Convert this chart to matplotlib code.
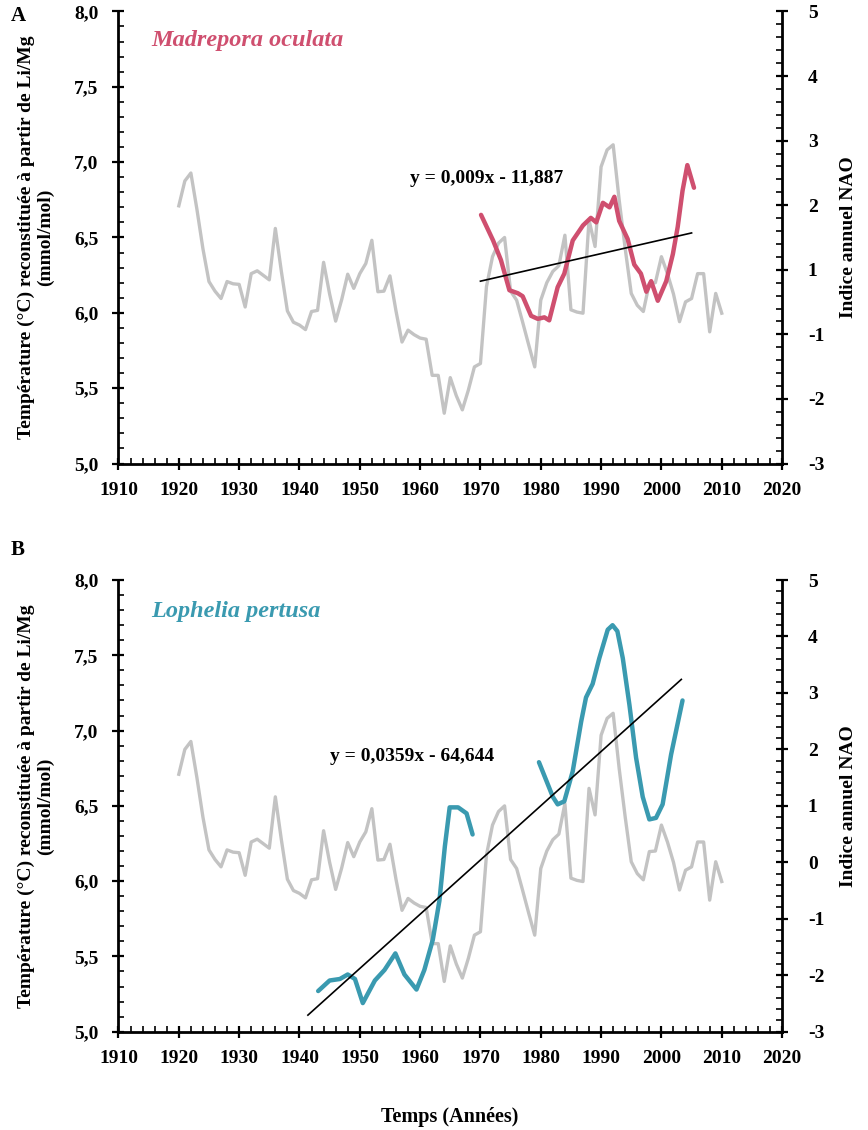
import matplotlib.pyplot as plt
from matplotlib.ticker import MultipleLocator, AutoMinorLocator, FixedLocator, FixedFormatter, FuncFormatter

plt.rcParams['font.family'] = ['Liberation Serif', 'DejaVu Serif']
plt.rcParams['font.weight'] = 'bold'
plt.rcParams['axes.labelweight'] = 'bold'
plt.rcParams['axes.unicode_minus'] = False

# annual NAO index (grey), 1920-2010
nao_years = list(range(1920, 2011))
nao = [1.56, 2.0, 2.14, 1.5, 0.8, 0.22, 0.05, -0.08, 0.22, 0.18,
       0.17, -0.23, 0.36, 0.41, 0.33, 0.25, 1.16, 0.4, -0.3, -0.5,
       -0.55, -0.63, -0.31, -0.29, 0.56, 0.0, -0.48, -0.1, 0.35, 0.10,
       0.36, 0.54, 0.95, 0.04, 0.05, 0.32, -0.3, -0.85, -0.64, -0.72,
       -0.78, -0.8, -1.44, -1.44, -2.11, -1.48, -1.8, -2.05, -1.7, -1.29,
       -1.23, 0.13, 0.66, 0.9, 1.0, 0.05, -0.11, -0.5, -0.9, -1.29,
       -0.11, 0.2, 0.4, 0.5, 1.04, -0.28, -0.32, -0.34, 1.31, 0.84,
       2.25, 2.55, 2.64, 1.66, 0.8, 0.01, -0.2, -0.31, 0.19, 0.2,
       0.66, 0.36, 0.0, -0.49, -0.14, -0.08, 0.36, 0.36, -0.67, 0.01,
       -0.34]

# Madrepora oculata, Li/Mg temperature
mo_years = [1970.1, 1972.1, 1973.4, 1974.8, 1976.2, 1977.0, 1978.4, 1979.5, 1980.6, 1981.4,
            1982.8, 1983.9, 1985.3, 1987.0, 1988.3, 1989.2, 1990.3, 1991.4, 1992.2, 1993.0,
            1994.4, 1995.5, 1996.6, 1997.5, 1998.3, 1999.4, 2000.8, 2001.9, 2002.7, 2003.5,
            2004.3, 2005.4]
mo_temp = [6.65, 6.48, 6.35, 6.15, 6.13, 6.11, 5.98, 5.96, 5.97, 5.95,
           6.17, 6.26, 6.48, 6.58, 6.63, 6.60, 6.73, 6.70, 6.77, 6.61,
           6.49, 6.32, 6.26, 6.14, 6.21, 6.08, 6.21, 6.39, 6.57, 6.81,
           6.98, 6.83]
mo_trend_x = [1970, 2005]
mo_trend_y = [6.21, 6.53]

# Lophelia pertusa, two segments
lp1_years = [1943.1, 1945.0, 1946.7, 1948.0, 1949.2, 1950.5, 1952.5, 1954.1, 1955.9, 1957.4,
             1959.4, 1960.7, 1962.1, 1963.2, 1964.1, 1964.9, 1966.3, 1967.7, 1968.7]
lp1_temp = [5.27, 5.34, 5.35, 5.38, 5.35, 5.19, 5.34, 5.41, 5.52, 5.38,
            5.28, 5.41, 5.61, 5.87, 6.23, 6.49, 6.49, 6.45, 6.31]
lp2_years = [1979.7, 1980.9, 1982.0, 1982.8, 1983.9, 1985.3, 1986.7, 1987.5, 1988.6, 1989.7,
             1991.1, 1991.9, 1992.7, 1993.6, 1994.7, 1995.8, 1996.9, 1998.0, 1999.1, 2000.2,
             2001.6, 2003.5]
lp2_temp = [6.79, 6.67, 6.56, 6.51, 6.53, 6.73, 7.06, 7.22, 7.31, 7.48,
            7.67, 7.70, 7.66, 7.48, 7.17, 6.82, 6.56, 6.41, 6.42, 6.51,
            6.84, 7.20]
lp_trend_x = [1941.4, 2003.3]
lp_trend_y = [5.11, 7.34]

grey = '#c3c3c3'
red = '#cf4f6f'
teal = '#3a9ab0'

fig = plt.figure(figsize=(8.68, 11.3), dpi=100)
ax1 = fig.add_axes([0.1365, 0.5898, 0.7645, 0.4001])
ax2 = fig.add_axes([0.1365, 0.0870, 0.7645, 0.3997])

ylab = 'Température (°C) reconstituée à partir de Li/Mg\n(mmol/mol)'


def style(ax, axr):
    ax.set_xlim(1910, 2020)
    ax.set_ylim(5.0, 8.0)
    axr.set_ylim(-3, 5)
    ax.xaxis.set_major_locator(MultipleLocator(10))
    ax.xaxis.set_minor_locator(MultipleLocator(2))
    ax.yaxis.set_major_locator(MultipleLocator(0.5))
    ax.yaxis.set_minor_locator(MultipleLocator(0.1))
    ax.yaxis.set_major_formatter(FuncFormatter(lambda v, p: f'{v:.1f}'.replace('.', ',')))
    for a in (ax, axr):
        a.spines['top'].set_visible(False)
        for s in ('left', 'right', 'bottom'):
            a.spines[s].set_linewidth(2)
        a.tick_params(which='major', direction='inout', length=9, width=1.6, labelsize=14)
        a.tick_params(which='minor', direction='in', length=4, width=1.2)
    ax.spines['right'].set_visible(False)
    axr.spines['left'].set_visible(False)
    axr.spines['bottom'].set_visible(False)
    ax.tick_params(axis='x', pad=9)
    ax.tick_params(axis='y', pad=10)
    axr.tick_params(axis='y', pad=14)
    ax.set_ylabel(ylab, fontsize=14, labelpad=14, linespacing=1.15)
    axr.set_ylabel('Indice annuel NAO', fontsize=14, labelpad=11)


# top panel
ax1r = ax1.twinx()
ax1r.plot(nao_years, nao, color=grey, lw=2.4, solid_joinstyle='round', zorder=1)
ax1.set_zorder(ax1r.get_zorder() + 1)
ax1.patch.set_visible(False)
ax1.plot(mo_years, mo_temp, color=red, lw=3.2, solid_joinstyle='round', solid_capstyle='round')
ax1.plot(mo_trend_x, mo_trend_y, color='black', lw=1.2)
style(ax1, ax1r)
top_ticks = [-3, -3 + 8 / 7, -3 + 16 / 7, -3 + 24 / 7, -3 + 32 / 7, -3 + 40 / 7, -3 + 48 / 7, 5]
ax1r.yaxis.set_major_locator(FixedLocator(top_ticks))
ax1r.yaxis.set_major_formatter(FixedFormatter(['-3', '-2', '-1', '1', '2', '3', '4', '5']))
ax1r.yaxis.set_minor_locator(AutoMinorLocator(5))
ax1.text(1958.4, 6.89, 'y = 0,009x - 11,887', fontsize=14, va='center')
ax1.text(1915.5, 7.81, 'Madrepora oculata', fontsize=17.5, style='italic', color=red, va='center')
fig.text(0.012, 0.981, 'A', fontsize=15)

# bottom panel
ax2r = ax2.twinx()
ax2r.plot(nao_years, nao, color=grey, lw=2.4, solid_joinstyle='round', zorder=1)
ax2.set_zorder(ax2r.get_zorder() + 1)
ax2.patch.set_visible(False)
ax2.plot(lp1_years, lp1_temp, color=teal, lw=3.2, solid_joinstyle='round', solid_capstyle='round')
ax2.plot(lp2_years, lp2_temp, color=teal, lw=3.2, solid_joinstyle='round', solid_capstyle='round')
ax2.plot(lp_trend_x, lp_trend_y, color='black', lw=1.2)
style(ax2, ax2r)
ax2r.yaxis.set_major_locator(MultipleLocator(1))
ax2r.yaxis.set_minor_locator(AutoMinorLocator(5))
ax2.text(1945.0, 6.83, 'y = 0,0359x - 64,644', fontsize=14, va='center')
ax2.text(1915.5, 7.79, 'Lophelia pertusa', fontsize=17.5, style='italic', color=teal, va='center')
fig.text(0.012, 0.509, 'B', fontsize=15)

fig.text(0.518, 0.007, 'Temps (Années)', fontsize=14.5, ha='center')

fig.savefig('out.png', dpi=100)
